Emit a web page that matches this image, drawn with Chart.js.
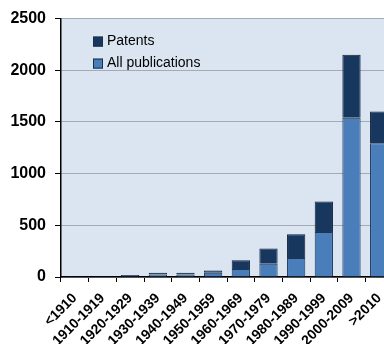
<!DOCTYPE html>
<html>
<head>
<meta charset="utf-8">
<script src="https://cdn.jsdelivr.net/npm/chart.js@4"></script>
<style>
  html, body { margin: 0; padding: 0; background: #fff; overflow: hidden; }
  #wrap { width: 400px; height: 344px; }
</style>
</head>
<body>
<div id="wrap"><canvas id="chart" width="400" height="344"></canvas></div>
<script>
const decades = ['<1910', '1910-1919', '1920-1929', '1930-1939', '1940-1949', '1950-1959',
  '1960-1969', '1970-1979', '1980-1989', '1990-1999', '2000-2009', '>2010'];
const allPublications = [6, 5, 10, 25, 25, 40, 78, 128, 185, 435, 1540, 1295];
const patents = [4, 4, 10, 15, 15, 22, 85, 147, 228, 295, 610, 305];
const yTicks = [0, 500, 1000, 1500, 2000, 2500];

const fontFamily = "'Liberation Sans', Arial, sans-serif";

/* ── Hintergrund der Plotfläche ── */
const plotBackground = {
  id: 'plotBackground',
  beforeDraw(chart) {
    const { ctx, chartArea: { left, top, width, height } } = chart;
    ctx.save();
    ctx.fillStyle = '#dbe5f1';
    ctx.fillRect(left, top, width, height);
    ctx.restore();
  }
};

/* ── Legende innerhalb der Plotfläche ── */
const innerLegend = {
  id: 'innerLegend',
  afterDraw(chart) {
    const { ctx, chartArea: { left, top } } = chart;
    const items = chart.data.datasets.slice().reverse();
    ctx.save();
    ctx.font = '14px ' + fontFamily;
    ctx.textBaseline = 'middle';
    items.forEach((ds, i) => {
      const x = left + 32;
      const y = top + 23 + i * 22;
      ctx.fillStyle = ds.backgroundColor;
      ctx.fillRect(x, y - 5, 10, 10);
      ctx.strokeStyle = '#1b2f47';
      ctx.lineWidth = 1;
      ctx.strokeRect(x + 0.5, y - 4.5, 9, 9);
      ctx.fillStyle = '#000';
      ctx.fillText(ds.label, x + 14, y);
    });
    ctx.restore();
  }
};

new Chart(document.getElementById('chart'), {
  type: 'bar',
  data: {
    labels: decades,
    datasets: [
      {
        label: 'All publications',
        data: allPublications,
        backgroundColor: '#4a7ebb',
        borderColor: '#1f3553',
        borderWidth: 1,
        categoryPercentage: 1,
        barPercentage: 0.66
      },
      {
        label: 'Patents',
        data: patents,
        backgroundColor: '#17375e',
        borderColor: '#0f2138',
        borderWidth: 1,
        categoryPercentage: 1,
        barPercentage: 0.66
      }
    ]
  },
  options: {
    responsive: false,
    animation: false,
    layout: { padding: { top: 17, right: 7, left: 0, bottom: 0 } },
    plugins: {
      legend: { display: false },
      tooltip: { enabled: false }
    },
    scales: {
      x: {
        stacked: true,
        afterFit(scale) { scale.height = 67; },
        border: { color: '#000', width: 1.5 },
        grid: { drawOnChartArea: false, drawTicks: true, tickLength: 5, tickColor: '#000', offset: true },
        ticks: {
          color: '#000',
          minRotation: 45,
          maxRotation: 45,
          autoSkip: false,
          padding: 8,
          font: { family: fontFamily, size: 14, weight: 'bold' }
        }
      },
      y: {
        stacked: true,
        min: 0,
        max: 2500,
        afterFit(scale) { scale.width = 61; },
        afterBuildTicks(scale) { scale.ticks = yTicks.map(v => ({ value: v })); },
        border: { color: '#000', width: 1.5 },
        grid: { color: '#a3abb5', lineWidth: 1, tickColor: '#000', tickLength: 6 },
        ticks: {
          color: '#000',
          padding: 9,
          callback: v => String(v),
          font: { family: fontFamily, size: 16, weight: 'bold' }
        }
      }
    }
  },
  plugins: [plotBackground, innerLegend]
});
</script>
</body>
</html>
